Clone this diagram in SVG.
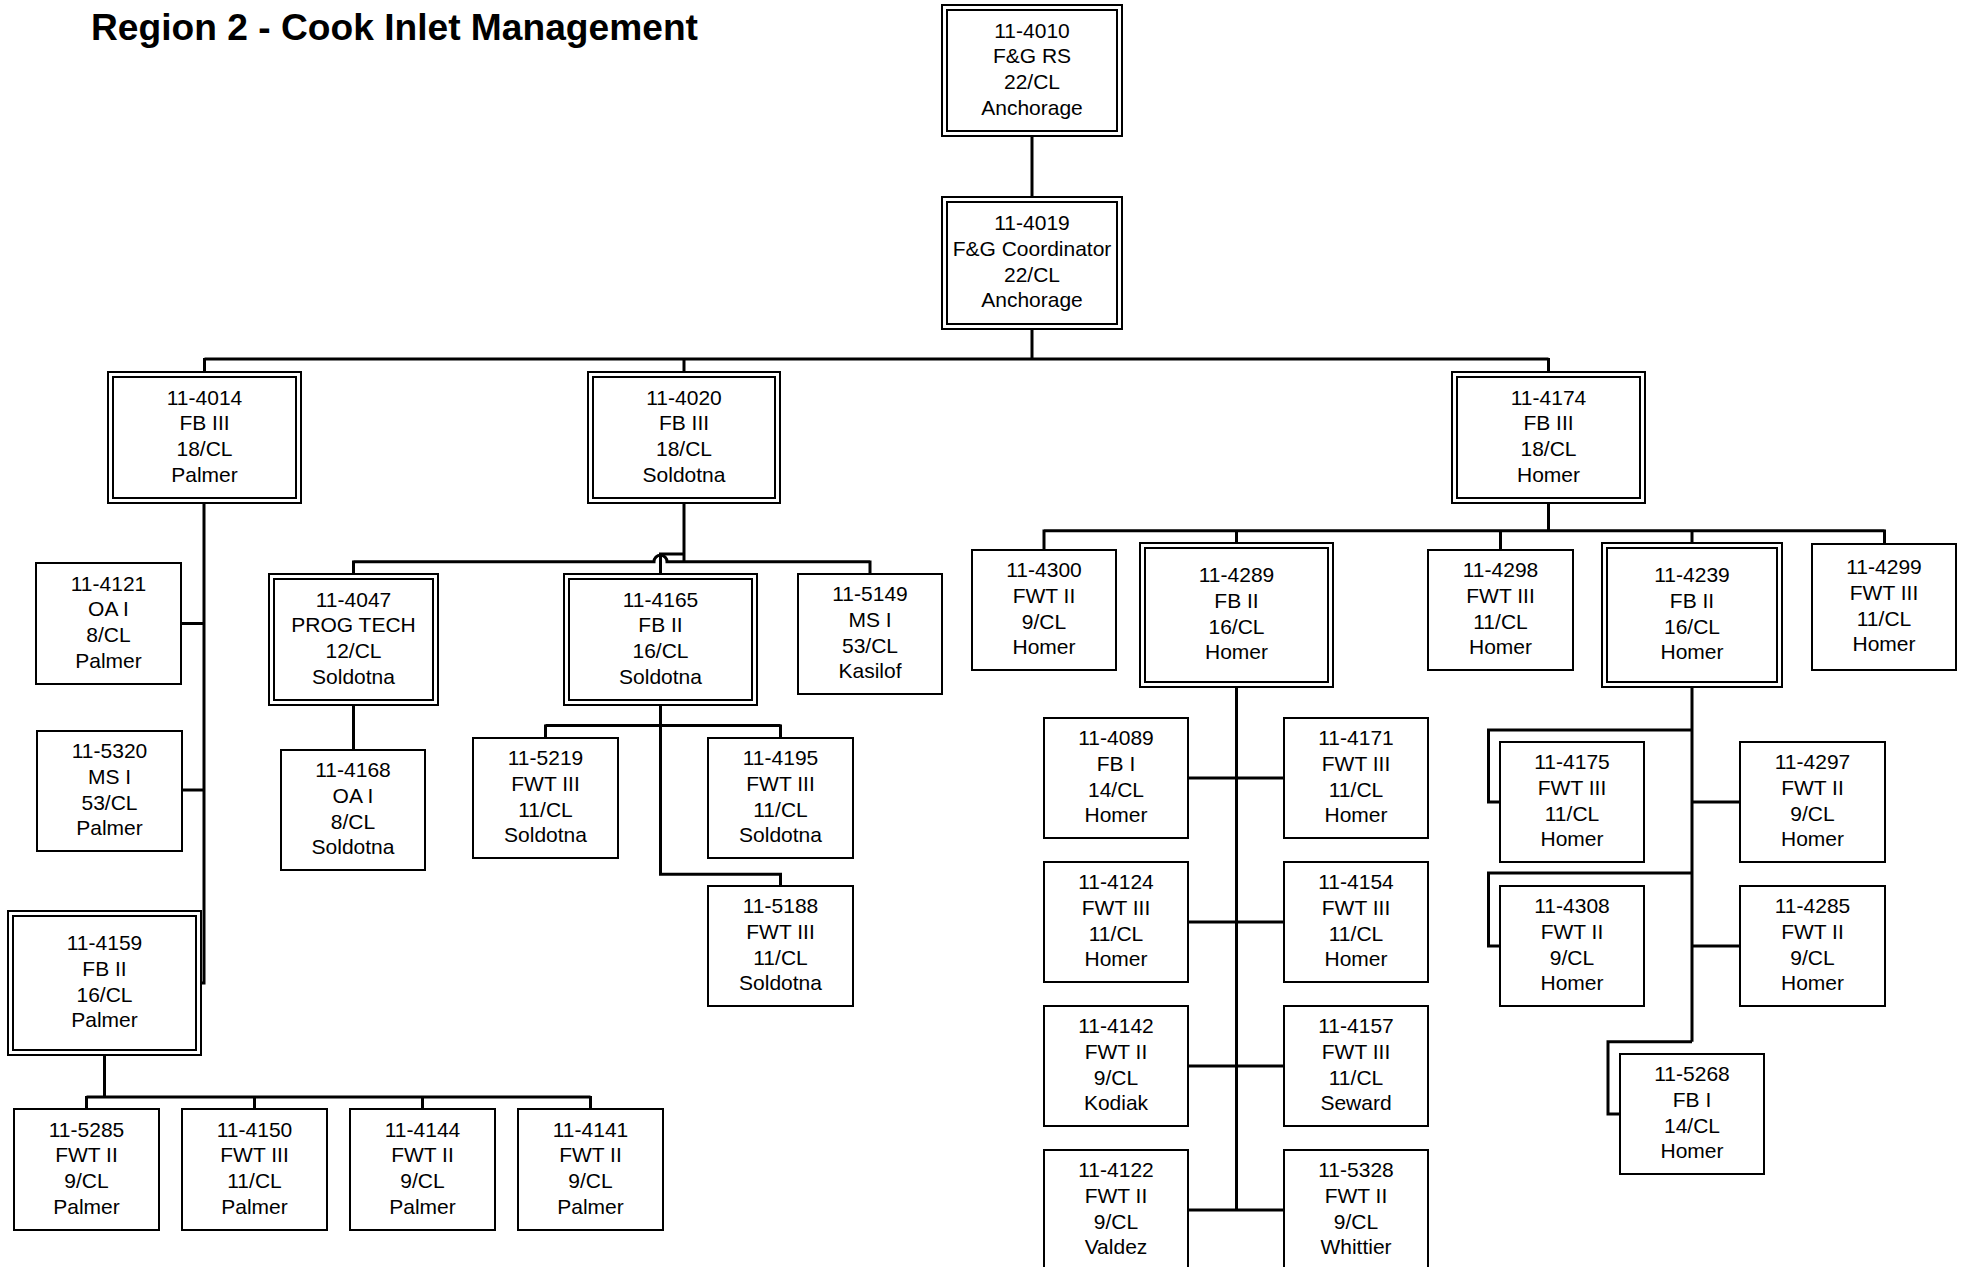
<svg xmlns="http://www.w3.org/2000/svg" width="1969" height="1267" viewBox="0 0 1969 1267">
<style>
.bg{fill:#fff}
.c{fill:none;stroke:#000;stroke-width:3}
.b{fill:#fff;stroke:#000;stroke-width:2}
.bi{fill:none;stroke:#000;stroke-width:2}
.t{font-family:"Liberation Sans",Arial,sans-serif;font-size:21px;text-anchor:middle;fill:#000}
.title{font-family:"Liberation Sans",Arial,sans-serif;font-size:37px;font-weight:bold;fill:#000}
</style>
<rect class="bg" x="0" y="0" width="1969" height="1267"/>
<text class="title" x="91" y="40" textLength="607" lengthAdjust="spacingAndGlyphs">Region 2 - Cook Inlet Management</text>
<g id="connectors">
<path class="c" d="M1032,136V197"/>
<path class="c" d="M1032,329V359"/>
<path class="c" d="M204.5,359H1548.5M204.5,358V372M684,358V372M1548.5,358V372"/>
<path class="c" d="M204,503V983H201"/>
<path class="c" d="M181,623.5H204M182,790H204"/>
<path class="c" d="M104.5,1055V1097M86.5,1097H590.5M86.5,1096V1109M254.5,1096V1109M422.5,1096V1109M590.5,1096V1109"/>
<path class="c" d="M684,503V561.7"/>
<path class="c" d="M353.5,561.7H654A6.5,6.5 0 0 1 667,561.7H870M353.5,560.5V574M870,560.5V574"/>
<path class="c" d="M684,554H660.5V574"/>
<path class="c" d="M353.5,705V750"/>
<path class="c" d="M660.5,705V874.3H780.5V886"/>
<path class="c" d="M545.5,725.5H780.5M545.5,724.5V738M780.5,724.5V738"/>
<path class="c" d="M1548.5,503V530.7"/>
<path class="c" d="M1044,530.7H1884.5M1044,529.5V550M1236.5,529.5V543M1500.5,529.5V550M1692,529.5V543M1884.5,529.5V544"/>
<path class="c" d="M1236.5,687V1210"/>
<path class="c" d="M1188,778H1284M1188,922H1284M1188,1066H1284M1188,1210H1284"/>
<path class="c" d="M1692,687V1041.7"/>
<path class="c" d="M1692,730H1488.5V802H1500M1692,873H1488.5V946H1500M1692,1041.7H1608V1114H1620"/>
<path class="c" d="M1692,802H1740M1692,946H1740"/>
</g>
<g id="n4010"><rect class="b" x="942" y="5" width="180" height="131"/><rect class="bi" x="947" y="10" width="170" height="121"/><text class="t" y="37.85"><tspan x="1032">11-4010</tspan><tspan x="1032" dy="25.6">F&amp;G RS</tspan><tspan x="1032" dy="25.6">22/CL</tspan><tspan x="1032" dy="25.6">Anchorage</tspan></text></g>
<g id="n4019"><rect class="b" x="942" y="197" width="180" height="132"/><rect class="bi" x="947" y="202" width="170" height="122"/><text class="t" y="230.35"><tspan x="1032">11-4019</tspan><tspan x="1032" dy="25.6">F&amp;G Coordinator</tspan><tspan x="1032" dy="25.6">22/CL</tspan><tspan x="1032" dy="25.6">Anchorage</tspan></text></g>
<g id="n4014"><rect class="b" x="108" y="372" width="193" height="131"/><rect class="bi" x="113" y="377" width="183" height="121"/><text class="t" y="404.85"><tspan x="204.5">11-4014</tspan><tspan x="204.5" dy="25.6">FB III</tspan><tspan x="204.5" dy="25.6">18/CL</tspan><tspan x="204.5" dy="25.6">Palmer</tspan></text></g>
<g id="n4020"><rect class="b" x="588" y="372" width="192" height="131"/><rect class="bi" x="593" y="377" width="182" height="121"/><text class="t" y="404.85"><tspan x="684">11-4020</tspan><tspan x="684" dy="25.6">FB III</tspan><tspan x="684" dy="25.6">18/CL</tspan><tspan x="684" dy="25.6">Soldotna</tspan></text></g>
<g id="n4174"><rect class="b" x="1452" y="372" width="193" height="131"/><rect class="bi" x="1457" y="377" width="183" height="121"/><text class="t" y="404.85"><tspan x="1548.5">11-4174</tspan><tspan x="1548.5" dy="25.6">FB III</tspan><tspan x="1548.5" dy="25.6">18/CL</tspan><tspan x="1548.5" dy="25.6">Homer</tspan></text></g>
<g id="n4121"><rect class="b" x="36" y="563" width="145" height="121"/><text class="t" y="590.85"><tspan x="108.5">11-4121</tspan><tspan x="108.5" dy="25.6">OA I</tspan><tspan x="108.5" dy="25.6">8/CL</tspan><tspan x="108.5" dy="25.6">Palmer</tspan></text></g>
<g id="n5320"><rect class="b" x="37" y="731" width="145" height="120"/><text class="t" y="758.35"><tspan x="109.5">11-5320</tspan><tspan x="109.5" dy="25.6">MS I</tspan><tspan x="109.5" dy="25.6">53/CL</tspan><tspan x="109.5" dy="25.6">Palmer</tspan></text></g>
<g id="n4159"><rect class="b" x="8" y="911" width="193" height="144"/><rect class="bi" x="13" y="916" width="183" height="134"/><text class="t" y="950.35"><tspan x="104.5">11-4159</tspan><tspan x="104.5" dy="25.6">FB II</tspan><tspan x="104.5" dy="25.6">16/CL</tspan><tspan x="104.5" dy="25.6">Palmer</tspan></text></g>
<g id="n5285"><rect class="b" x="14" y="1109" width="145" height="121"/><text class="t" y="1136.85"><tspan x="86.5">11-5285</tspan><tspan x="86.5" dy="25.6">FWT II</tspan><tspan x="86.5" dy="25.6">9/CL</tspan><tspan x="86.5" dy="25.6">Palmer</tspan></text></g>
<g id="n4150"><rect class="b" x="182" y="1109" width="145" height="121"/><text class="t" y="1136.85"><tspan x="254.5">11-4150</tspan><tspan x="254.5" dy="25.6">FWT III</tspan><tspan x="254.5" dy="25.6">11/CL</tspan><tspan x="254.5" dy="25.6">Palmer</tspan></text></g>
<g id="n4144"><rect class="b" x="350" y="1109" width="145" height="121"/><text class="t" y="1136.85"><tspan x="422.5">11-4144</tspan><tspan x="422.5" dy="25.6">FWT II</tspan><tspan x="422.5" dy="25.6">9/CL</tspan><tspan x="422.5" dy="25.6">Palmer</tspan></text></g>
<g id="n4141"><rect class="b" x="518" y="1109" width="145" height="121"/><text class="t" y="1136.85"><tspan x="590.5">11-4141</tspan><tspan x="590.5" dy="25.6">FWT II</tspan><tspan x="590.5" dy="25.6">9/CL</tspan><tspan x="590.5" dy="25.6">Palmer</tspan></text></g>
<g id="n4047"><rect class="b" x="269" y="574" width="169" height="131"/><rect class="bi" x="274" y="579" width="159" height="121"/><text class="t" y="606.85"><tspan x="353.5">11-4047</tspan><tspan x="353.5" dy="25.6">PROG TECH</tspan><tspan x="353.5" dy="25.6">12/CL</tspan><tspan x="353.5" dy="25.6">Soldotna</tspan></text></g>
<g id="n4165"><rect class="b" x="564" y="574" width="193" height="131"/><rect class="bi" x="569" y="579" width="183" height="121"/><text class="t" y="606.85"><tspan x="660.5">11-4165</tspan><tspan x="660.5" dy="25.6">FB II</tspan><tspan x="660.5" dy="25.6">16/CL</tspan><tspan x="660.5" dy="25.6">Soldotna</tspan></text></g>
<g id="n5149"><rect class="b" x="798" y="574" width="144" height="120"/><text class="t" y="601.35"><tspan x="870">11-5149</tspan><tspan x="870" dy="25.6">MS I</tspan><tspan x="870" dy="25.6">53/CL</tspan><tspan x="870" dy="25.6">Kasilof</tspan></text></g>
<g id="n4168"><rect class="b" x="281" y="750" width="144" height="120"/><text class="t" y="777.35"><tspan x="353">11-4168</tspan><tspan x="353" dy="25.6">OA I</tspan><tspan x="353" dy="25.6">8/CL</tspan><tspan x="353" dy="25.6">Soldotna</tspan></text></g>
<g id="n5219"><rect class="b" x="473" y="738" width="145" height="120"/><text class="t" y="765.35"><tspan x="545.5">11-5219</tspan><tspan x="545.5" dy="25.6">FWT III</tspan><tspan x="545.5" dy="25.6">11/CL</tspan><tspan x="545.5" dy="25.6">Soldotna</tspan></text></g>
<g id="n4195"><rect class="b" x="708" y="738" width="145" height="120"/><text class="t" y="765.35"><tspan x="780.5">11-4195</tspan><tspan x="780.5" dy="25.6">FWT III</tspan><tspan x="780.5" dy="25.6">11/CL</tspan><tspan x="780.5" dy="25.6">Soldotna</tspan></text></g>
<g id="n5188"><rect class="b" x="708" y="886" width="145" height="120"/><text class="t" y="913.35"><tspan x="780.5">11-5188</tspan><tspan x="780.5" dy="25.6">FWT III</tspan><tspan x="780.5" dy="25.6">11/CL</tspan><tspan x="780.5" dy="25.6">Soldotna</tspan></text></g>
<g id="n4300"><rect class="b" x="972" y="550" width="144" height="120"/><text class="t" y="577.35"><tspan x="1044">11-4300</tspan><tspan x="1044" dy="25.6">FWT II</tspan><tspan x="1044" dy="25.6">9/CL</tspan><tspan x="1044" dy="25.6">Homer</tspan></text></g>
<g id="n4289"><rect class="b" x="1140" y="543" width="193" height="144"/><rect class="bi" x="1145" y="548" width="183" height="134"/><text class="t" y="582.35"><tspan x="1236.5">11-4289</tspan><tspan x="1236.5" dy="25.6">FB II</tspan><tspan x="1236.5" dy="25.6">16/CL</tspan><tspan x="1236.5" dy="25.6">Homer</tspan></text></g>
<g id="n4298"><rect class="b" x="1428" y="550" width="145" height="120"/><text class="t" y="577.35"><tspan x="1500.5">11-4298</tspan><tspan x="1500.5" dy="25.6">FWT III</tspan><tspan x="1500.5" dy="25.6">11/CL</tspan><tspan x="1500.5" dy="25.6">Homer</tspan></text></g>
<g id="n4239"><rect class="b" x="1602" y="543" width="180" height="144"/><rect class="bi" x="1607" y="548" width="170" height="134"/><text class="t" y="582.35"><tspan x="1692">11-4239</tspan><tspan x="1692" dy="25.6">FB II</tspan><tspan x="1692" dy="25.6">16/CL</tspan><tspan x="1692" dy="25.6">Homer</tspan></text></g>
<g id="n4299"><rect class="b" x="1812" y="544" width="144" height="126"/><text class="t" y="574.35"><tspan x="1884">11-4299</tspan><tspan x="1884" dy="25.6">FWT III</tspan><tspan x="1884" dy="25.6">11/CL</tspan><tspan x="1884" dy="25.6">Homer</tspan></text></g>
<g id="n4089"><rect class="b" x="1044" y="718" width="144" height="120"/><text class="t" y="745.35"><tspan x="1116">11-4089</tspan><tspan x="1116" dy="25.6">FB I</tspan><tspan x="1116" dy="25.6">14/CL</tspan><tspan x="1116" dy="25.6">Homer</tspan></text></g>
<g id="n4171"><rect class="b" x="1284" y="718" width="144" height="120"/><text class="t" y="745.35"><tspan x="1356">11-4171</tspan><tspan x="1356" dy="25.6">FWT III</tspan><tspan x="1356" dy="25.6">11/CL</tspan><tspan x="1356" dy="25.6">Homer</tspan></text></g>
<g id="n4124"><rect class="b" x="1044" y="862" width="144" height="120"/><text class="t" y="889.35"><tspan x="1116">11-4124</tspan><tspan x="1116" dy="25.6">FWT III</tspan><tspan x="1116" dy="25.6">11/CL</tspan><tspan x="1116" dy="25.6">Homer</tspan></text></g>
<g id="n4154"><rect class="b" x="1284" y="862" width="144" height="120"/><text class="t" y="889.35"><tspan x="1356">11-4154</tspan><tspan x="1356" dy="25.6">FWT III</tspan><tspan x="1356" dy="25.6">11/CL</tspan><tspan x="1356" dy="25.6">Homer</tspan></text></g>
<g id="n4142"><rect class="b" x="1044" y="1006" width="144" height="120"/><text class="t" y="1033.35"><tspan x="1116">11-4142</tspan><tspan x="1116" dy="25.6">FWT II</tspan><tspan x="1116" dy="25.6">9/CL</tspan><tspan x="1116" dy="25.6">Kodiak</tspan></text></g>
<g id="n4157"><rect class="b" x="1284" y="1006" width="144" height="120"/><text class="t" y="1033.35"><tspan x="1356">11-4157</tspan><tspan x="1356" dy="25.6">FWT III</tspan><tspan x="1356" dy="25.6">11/CL</tspan><tspan x="1356" dy="25.6">Seward</tspan></text></g>
<g id="n4122"><rect class="b" x="1044" y="1150" width="144" height="120"/><text class="t" y="1177.35"><tspan x="1116">11-4122</tspan><tspan x="1116" dy="25.6">FWT II</tspan><tspan x="1116" dy="25.6">9/CL</tspan><tspan x="1116" dy="25.6">Valdez</tspan></text></g>
<g id="n5328"><rect class="b" x="1284" y="1150" width="144" height="120"/><text class="t" y="1177.35"><tspan x="1356">11-5328</tspan><tspan x="1356" dy="25.6">FWT II</tspan><tspan x="1356" dy="25.6">9/CL</tspan><tspan x="1356" dy="25.6">Whittier</tspan></text></g>
<g id="n4175"><rect class="b" x="1500" y="742" width="144" height="120"/><text class="t" y="769.35"><tspan x="1572">11-4175</tspan><tspan x="1572" dy="25.6">FWT III</tspan><tspan x="1572" dy="25.6">11/CL</tspan><tspan x="1572" dy="25.6">Homer</tspan></text></g>
<g id="n4297"><rect class="b" x="1740" y="742" width="145" height="120"/><text class="t" y="769.35"><tspan x="1812.5">11-4297</tspan><tspan x="1812.5" dy="25.6">FWT II</tspan><tspan x="1812.5" dy="25.6">9/CL</tspan><tspan x="1812.5" dy="25.6">Homer</tspan></text></g>
<g id="n4308"><rect class="b" x="1500" y="886" width="144" height="120"/><text class="t" y="913.35"><tspan x="1572">11-4308</tspan><tspan x="1572" dy="25.6">FWT II</tspan><tspan x="1572" dy="25.6">9/CL</tspan><tspan x="1572" dy="25.6">Homer</tspan></text></g>
<g id="n4285"><rect class="b" x="1740" y="886" width="145" height="120"/><text class="t" y="913.35"><tspan x="1812.5">11-4285</tspan><tspan x="1812.5" dy="25.6">FWT II</tspan><tspan x="1812.5" dy="25.6">9/CL</tspan><tspan x="1812.5" dy="25.6">Homer</tspan></text></g>
<g id="n5268"><rect class="b" x="1620" y="1054" width="144" height="120"/><text class="t" y="1081.35"><tspan x="1692">11-5268</tspan><tspan x="1692" dy="25.6">FB I</tspan><tspan x="1692" dy="25.6">14/CL</tspan><tspan x="1692" dy="25.6">Homer</tspan></text></g>
</svg>
